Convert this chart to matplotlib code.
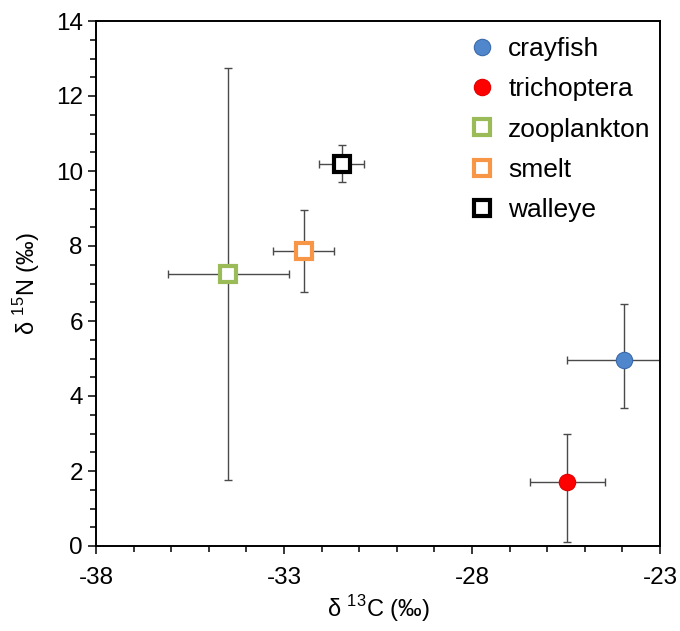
import matplotlib
matplotlib.use("Agg")
import matplotlib.pyplot as plt
from matplotlib.ticker import MultipleLocator, FixedLocator
import numpy as np

plt.rcParams['font.family'] = ['Liberation Sans', 'DejaVu Sans']
plt.rcParams['axes.unicode_minus'] = False
plt.rcParams['mathtext.fontset'] = 'custom'
plt.rcParams['mathtext.rm'] = 'Liberation Sans'

names = ["crayfish", "trichoptera", "zooplankton", "smelt", "walleye"]
d13C = [-23.97, -25.47, -34.48, -32.48, -31.47]
d15N = [4.95, 1.70, 7.26, 7.86, 10.19]
d13C_err = [1.5, 1.0, 1.6, 0.8, 0.59]
d15N_err_low = [1.28, 1.60, 5.5, 1.09, 0.48]
d15N_err_high = [1.50, 1.29, 5.5, 1.09, 0.51]
x_ticks = [-38, -33, -28, -23]
y_ticks = [0, 2, 4, 6, 8, 10, 12, 14]

face = ["#4F86CC", "#FF0000", "white", "white", "white"]
edge = ["#3A6AAA", "#E00000", "#9BBB59", "#F79646", "black"]
markers = ["o", "o", "s", "s", "s"]
msize = [11.8, 11.8, 11.5, 11.5, 11.5]
mew = [0.8, 0.8, 3.0, 3.0, 3.0]

fig = plt.figure(figsize=(6.8, 6.31), dpi=100)
ax = fig.add_axes([96/680, 85/631, 564/680, 525/631])

for i, n in enumerate(names):
    ax.errorbar(d13C[i], d15N[i], xerr=d13C_err[i],
                yerr=[[d15N_err_low[i]], [d15N_err_high[i]]],
                fmt='none', ecolor='#4a4a4a', elinewidth=1.0, capsize=3,
                capthick=1.0, zorder=2)
    ax.plot(d13C[i], d15N[i], linestyle='none', marker=markers[i],
            markersize=msize[i], markerfacecolor=face[i],
            markeredgecolor=edge[i], markeredgewidth=mew[i], label=n, zorder=3)

ax.set_xlim(-38, -23)
ax.set_ylim(0, 14)
ax.xaxis.set_major_locator(FixedLocator(x_ticks))
ax.xaxis.set_minor_locator(MultipleLocator(1))
ax.yaxis.set_major_locator(FixedLocator(y_ticks))
ax.yaxis.set_minor_locator(MultipleLocator(0.5))
ax.tick_params(which='both', direction='out', labelsize=17.5, width=1.1, colors='black')
ax.tick_params(which='major', length=6)
ax.tick_params(which='minor', length=4.3)
ax.tick_params(axis='x', which='major', pad=9)
for s in ax.spines.values():
    s.set_linewidth(1.4)

ax.set_xlabel("δ $^{13}$C (‰)", fontsize=17, labelpad=3)
ax.set_ylabel("δ $^{15}$N (‰)", fontsize=17, labelpad=10)

ax.legend(loc='upper left', bbox_to_anchor=(462/680, 1 - 37/631),
          bbox_transform=fig.transFigure, frameon=False, fontsize=19,
          handletextpad=0.25, labelspacing=0.62, borderaxespad=0,
          borderpad=0, handlelength=1.5)

fig.savefig("out.png", dpi=100)
